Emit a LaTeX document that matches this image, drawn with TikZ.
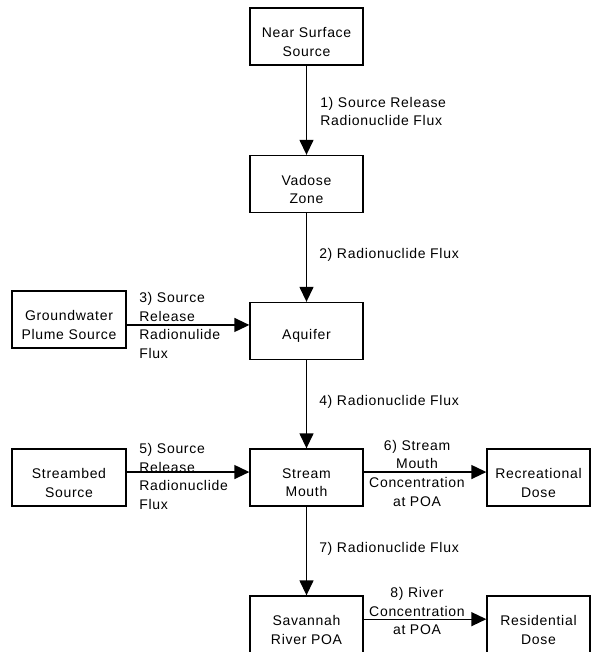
\documentclass[tikz,border=0pt]{standalone}
\usepackage{fontspec}
\setmainfont[LetterSpace=5]{Liberation Sans}
\usetikzlibrary{arrows.meta}
\begin{document}
\begin{tikzpicture}[x=0.75pt,y=-0.75pt,
  box/.style={draw,line width=1pt,minimum height=42.75pt,inner sep=0pt},
  wbox/.style={box,minimum width=84.75pt},
  nbox/.style={box,minimum width=77.25pt},
  btext/.style={align=center,inner sep=0pt,font=\fontsize{10.5pt}{14pt}\selectfont},
  lab/.style={align=left,inner sep=0pt,anchor=west,font=\fontsize{10.5pt}{14pt}\selectfont},
  clab/.style={align=center,inner sep=0pt,font=\fontsize{10.5pt}{14pt}\selectfont},
  arr/.style={line width=1pt,-{Triangle[length=11.25pt,width=10.5pt]}}]
\useasboundingbox (0,0) rectangle (591,652);
% boxes
\node[wbox] (ns) at (306.5,36.5) {};
\node[wbox] (vz) at (306.5,184) {};
\node[wbox] (aq) at (306.5,331) {};
\node[box,minimum width=85.5pt] (gw) at (69,319.5) {};
\node[wbox] (sm) at (306.5,477.5) {};
\node[box,minimum width=85.5pt] (sb) at (69,477.5) {};
\node[nbox] (rd) at (538.5,477.5) {};
\node[wbox] (sv) at (306.5,624.5) {};
\node[nbox] (res) at (538.5,624.5) {};
% box texts
\node[btext] (nst) at ([yshift=-4pt]ns.center) {Near Surface\\Source};
\node[btext] (vzt) at ([yshift=-4pt]vz.center) {Vadose\\Zone};
\node[btext] (aqt) at ([yshift=-4pt]aq.center) {Aquifer};
\node[btext] (gwt) at ([yshift=-4pt]gw.center) {Groundwater\\Plume Source};
\node[btext] (smt) at ([yshift=-4pt]sm.center) {Stream\\Mouth};
\node[btext] (sbt) at ([yshift=-4pt]sb.center) {Streambed\\Source};
\node[btext] (rdt) at ([yshift=-4pt]rd.center) {Recreational\\Dose};
\node[btext] (svt) at ([yshift=-4pt]sv.center) {Savannah\\River POA};
\node[btext] (rest) at ([yshift=-4pt]res.center) {Residential\\Dose};
% vertical arrows
\draw[arr] (ns) -- (vz);
\draw[arr] (vz) -- (aq);
\draw[arr] (aq) -- (sm);
\draw[arr] (sm) -- (sv);
% horizontal arrows
\coordinate (c3) at ([yshift=-4.1pt]gw.east);
\draw[arr] (c3) -- (c3 -| aq.west);
\coordinate (c5) at ([yshift=4.1pt]sb.east);
\draw[arr] (c5) -- (c5 -| sm.west);
\coordinate (c6) at ([yshift=4.1pt]sm.east);
\draw[arr] (c6) -- (c6 -| rd.west);
\coordinate (c8) at ([yshift=4pt]sv.east);
\draw[arr] (c8) -- (c8 -| res.west);
% labels
\node[lab] (l1) at (320,111.5) {1) Source Release\\Radionuclide Flux};
\node[lab] (l2) at (319,255) {2) Radionuclide Flux};
\node[lab] (l3) at (139,325.5) {3) Source\\Release\\Radionulide\\Flux};
\node[lab] (l4) at (319,402) {4) Radionuclide Flux};
\node[lab] (l5) at (139,476.5) {5) Source\\Release\\Radionuclide\\Flux};
\node[clab] (l6) at (417,473) {6) Stream\\Mouth\\Concentration\\at POA};
\node[lab] (l7) at (319,549) {7) Radionuclide Flux};
\node[clab] (l8) at (417,611) {8) River\\Concentration\\at POA};
\end{tikzpicture}
\end{document}
